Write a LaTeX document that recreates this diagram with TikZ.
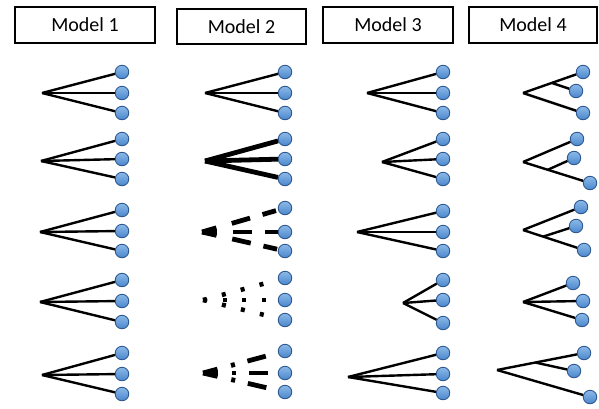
\documentclass[tikz,border=0pt]{standalone}
\usepackage{fontspec}
\setmainfont{Carlito}
\usetikzlibrary{calc}
\definecolor{LeafTop}{RGB}{140,186,232}
\definecolor{LeafBottom}{RGB}{74,134,204}
\definecolor{LeafLine}{RGB}{46,88,146}

\begin{document}
\begin{tikzpicture}[
    x=1pt, y=-1pt,
    header/.style={
        rectangle, draw=black, line width=1.9pt, minimum width=#1,
        minimum height=36pt, inner sep=0pt,
        font=\fontsize{20}{24}\selectfont
    },
    leaf/.style={
        circle, draw=LeafLine, line width=0.9pt, minimum size=13.5pt,
        inner sep=0pt, top color=LeafTop, bottom color=LeafBottom
    },
    thinbranch/.style={line width=2.4pt, black},
    thickbranch/.style={line width=4.8pt, black},
    dashbranch/.style={thickbranch,
        dash pattern=on 15pt off 16pt on 19pt off 13pt on 14pt off 30pt},
    dotbranch/.style={line width=4.5pt, black,
        dash pattern=on 4pt off 15.5pt},
    mixbranch/.style={thickbranch,
        dash pattern=on 15pt off 14pt on 4pt off 13pt on 19pt off 30pt}
]
\useasboundingbox (0,0) rectangle (599,408);

% Headers
\node[header=140pt] (model1) at (85,25) {Model 1};
\node[header=129pt, minimum height=35pt] (model2) at (241.5,26.5) {Model 2};
\node[header=130pt] (model3) at (388,25) {Model 3};
\node[header=128pt] (model4) at (533,25) {Model 4};

% --- Model 1: plain trees ---
\foreach \row/\rx/\ry/\ya/\yb/\yc in {1/42/93/72/93/113, 2/41/161/139/159/179,
        3/40/232/210/231/251, 4/40/302/280/301/322, 5/42/375/353/374/394} {
    \coordinate (m1r\row) at (\rx,\ry);
    \node[leaf] (m1r\row a) at (122,\ya) {};
    \node[leaf] (m1r\row b) at (122,\yb) {};
    \node[leaf] (m1r\row c) at (122,\yc) {};
    \foreach \k in {a,b,c}
        \draw[thinbranch] (m1r\row) -- (m1r\row\k);
}

% --- Model 2: branch strength varies ---
\foreach \row/\rx/\ry/\ya/\yb/\yc/\kind in {1/205/93/72/93/113/thinbranch,
        2/205/161/139/159/179/thickbranch, 3/202/232/208/232/251/dashbranch,
        4/203/300/278/300/320/dotbranch, 5/203/373/351/373/392/mixbranch} {
    \coordinate (m2r\row) at (\rx,\ry);
    \node[leaf] (m2r\row a) at (285,\ya) {};
    \node[leaf] (m2r\row b) at (285,\yb) {};
    \node[leaf] (m2r\row c) at (285,\yc) {};
    \foreach \k in {a,b,c}
        \draw[\kind] (m2r\row) -- (m2r\row\k);
}

% --- Model 3: root depth varies ---
\foreach \row/\rx/\ry/\ya/\yb/\yc in {1/367/93/72/93/113, 2/382/162/139/159/179,
        3/357/232/211/232/251, 4/403/303/280/300/323, 5/348/377/353/374/393} {
    \coordinate (m3r\row) at (\rx,\ry);
    \node[leaf] (m3r\row a) at (443,\ya) {};
    \node[leaf] (m3r\row b) at (443,\yb) {};
    \node[leaf] (m3r\row c) at (443,\yc) {};
    \foreach \k in {a,b,c}
        \draw[thinbranch] (m3r\row) -- (m3r\row\k);
}

% --- Model 4: topology varies ---
\coordinate (m4r1) at (523,93);
\node[leaf] (m4r1a) at (583,72) {};
\node[leaf] (m4r1b) at (576,91) {};
\node[leaf] (m4r1c) at (583,113) {};
\coordinate (m4s1) at ($(m4r1)!0.48!(m4r1a)$);
\draw[thinbranch] (m4r1) -- (m4r1a);
\draw[thinbranch] (m4s1) -- (m4r1b);
\draw[thinbranch] (m4r1) -- (m4r1c);

\coordinate (m4r2) at (523,162);
\node[leaf] (m4r2a) at (577,139) {};
\node[leaf] (m4r2b) at (574,158) {};
\node[leaf] (m4r2c) at (590,183) {};
\coordinate (m4s2) at ($(m4r2)!0.37!(m4r2c)$);
\draw[thinbranch] (m4r2) -- (m4r2a);
\draw[thinbranch] (m4s2) -- (m4r2b);
\draw[thinbranch] (m4r2) -- (m4r2c);

\coordinate (m4r3) at (523,230);
\node[leaf] (m4r3a) at (581,207) {};
\node[leaf] (m4r3b) at (576,226) {};
\node[leaf] (m4r3c) at (584,250) {};
\coordinate (m4s3) at ($(m4r3)!0.33!(m4r3c)$);
\draw[thinbranch] (m4r3) -- (m4r3a);
\draw[thinbranch] (m4s3) -- (m4r3b);
\draw[thinbranch] (m4r3) -- (m4r3c);

\coordinate (m4r4) at (523,302);
\node[leaf] (m4r4a) at (573,283) {};
\node[leaf] (m4r4b) at (583,301) {};
\node[leaf] (m4r4c) at (582,320) {};
\foreach \k in {a,b,c}
    \draw[thinbranch] (m4r4) -- (m4r4\k);

\coordinate (m4r5) at (497,370);
\node[leaf] (m4r5a) at (584,353) {};
\node[leaf] (m4r5b) at (574,371) {};
\node[leaf] (m4r5c) at (590,397) {};
\coordinate (m4s5) at ($(m4r5)!0.44!(m4r5a)$);
\draw[thinbranch] (m4r5) -- (m4r5a);
\draw[thinbranch] (m4s5) -- (m4r5b);
\draw[thinbranch] (m4r5) -- (m4r5c);

\end{tikzpicture}
\end{document}
